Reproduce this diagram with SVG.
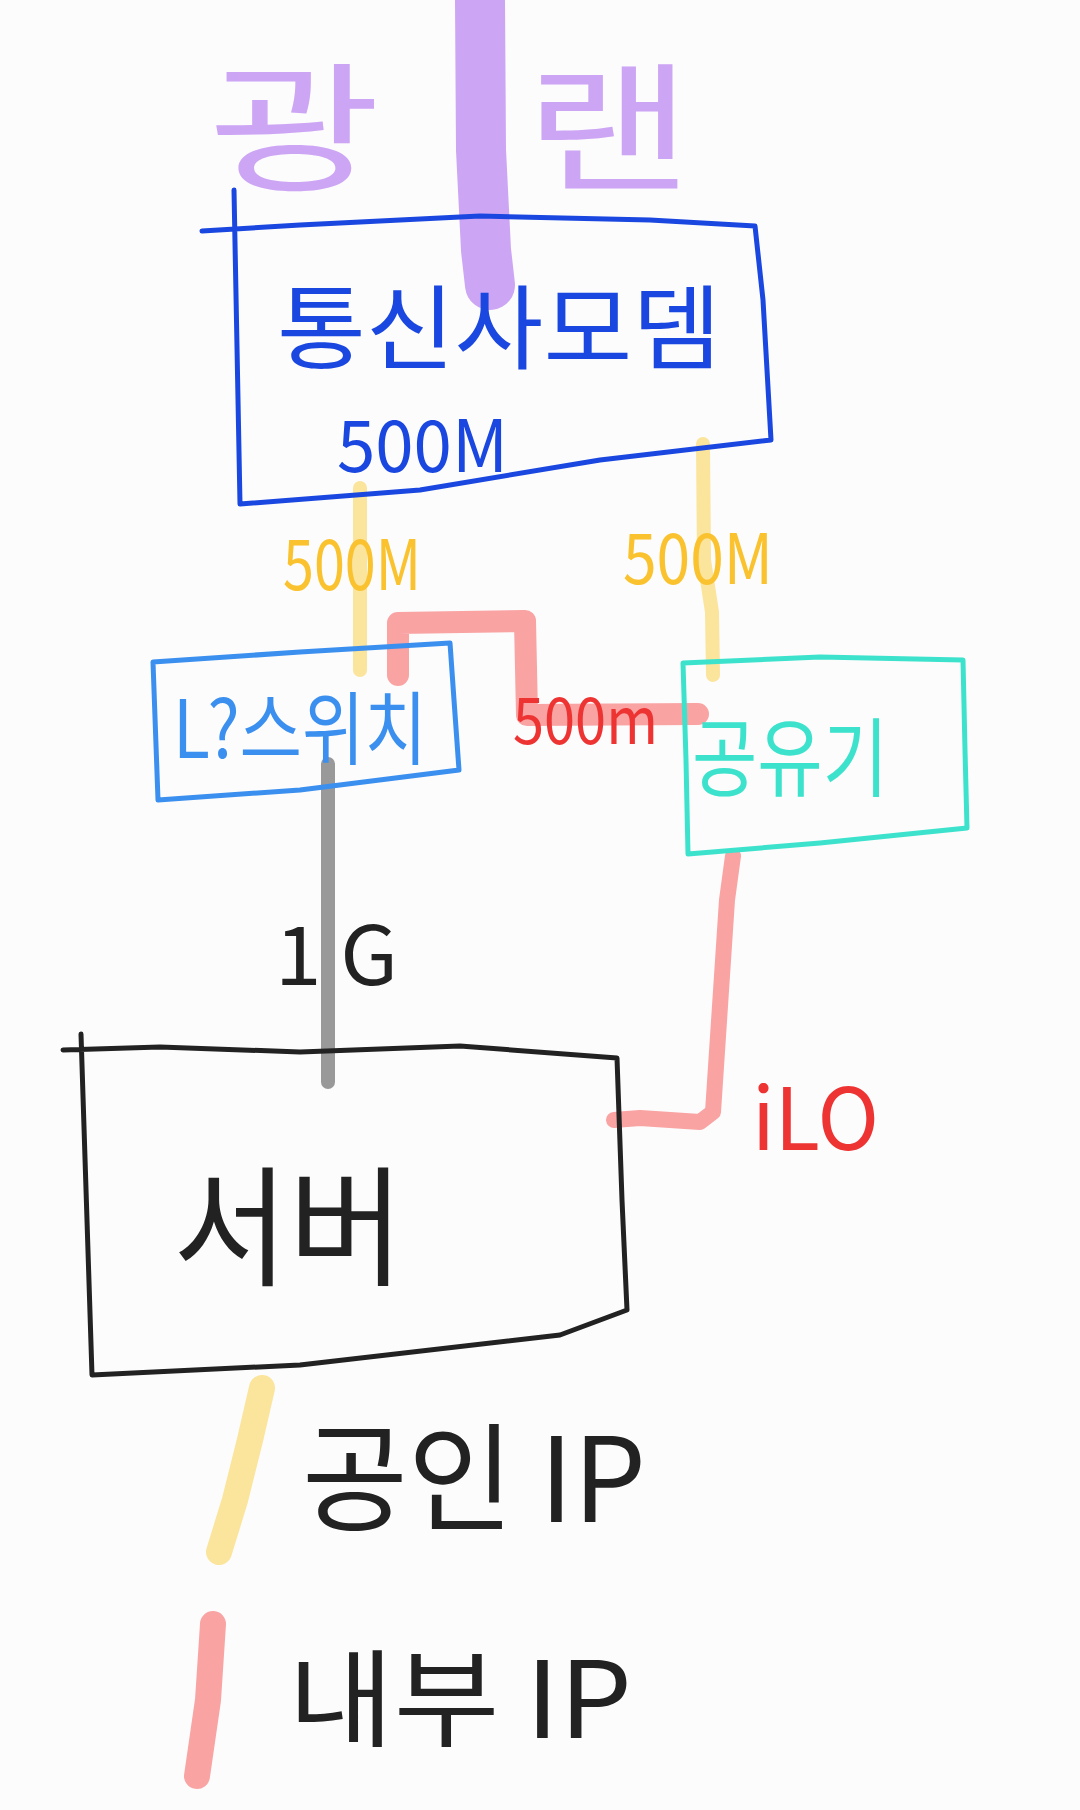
<svg xmlns="http://www.w3.org/2000/svg" width="1080" height="1810" viewBox="0 0 1080 1810">
  <style>
    .t { font-family: "Noto Sans CJK KR", "Noto Sans", "Liberation Sans", sans-serif; }
    .box { fill: none; stroke-linejoin: round; stroke-linecap: round; }
    .wire { fill: none; stroke-linecap: round; stroke-linejoin: round; }
  </style>
  <rect width="1080" height="1810" fill="#fcfcfc"/>

  <g id="label-gwanglan">
    <text class="t" x="208" y="180" font-size="140" fill="#cda5f5" textLength="173" lengthAdjust="spacingAndGlyphs">광</text>
    <text class="t" x="525" y="180" font-size="140" fill="#cda5f5" textLength="167" lengthAdjust="spacingAndGlyphs">랜</text>
  </g>

  <g id="connectors">
    <path class="wire" d="M480 0 L481 150 L486 250 L490 285" stroke="#cda5f5" stroke-width="50"/>
    <path class="wire" d="M360 488 L360 670" stroke="#fbe49b" stroke-width="14"/>
    <path class="wire" d="M703 444 L704 560 L712 612 L713 675" stroke="#fbe49b" stroke-width="14"/>
    <path class="wire" d="M398 675 L398 623 L525 621 L527 715 L698 714" stroke="#f9a3a3" stroke-width="22"/>
    <path class="wire" d="M328 764 L328 1082" stroke="#999999" stroke-width="14"/>
    <path class="wire" d="M733 856 L727 900 L713 1112 L700 1122 L640 1118 L614 1120" stroke="#f9a3a3" stroke-width="16"/>
    <text class="t" x="283" y="590" font-size="70" fill="#f9c22e" textLength="138" lengthAdjust="spacingAndGlyphs">500M</text>
    <text class="t" x="623" y="584" font-size="70" fill="#f9c22e" textLength="150" lengthAdjust="spacingAndGlyphs">500M</text>
    <text class="t" x="513" y="744" font-size="64" fill="#ee3333" textLength="145" lengthAdjust="spacingAndGlyphs">500m</text>
    <text class="t" x="275" y="985" font-size="82" fill="#222222" textLength="123" lengthAdjust="spacingAndGlyphs">1 G</text>
    <text class="t" x="752" y="1150" font-size="86" fill="#ee3333" textLength="127" lengthAdjust="spacingAndGlyphs">iLO</text>
  </g>

  <g id="node-modem">
    <path class="box" d="M234 190 L240 504 M202 231 L300 225 L480 216 L650 220 L755 226 L763 300 L771 440 L600 460 L420 490 L240 504" stroke="#1a47e0" stroke-width="5"/>
    <text class="t" x="277" y="362" font-size="92" fill="#1a47e0" textLength="444" lengthAdjust="spacingAndGlyphs">통신사모뎀</text>
    <text class="t" x="337" y="472" font-size="72" fill="#1a47e0" textLength="171" lengthAdjust="spacingAndGlyphs">500M</text>
  </g>

  <g id="node-l-switch">
    <path class="box" d="M153 662 L300 652 L450 643 L454 700 L459 770 L300 790 L158 800 Z" stroke="#3b8fef" stroke-width="5"/>
    <text class="t" x="173" y="758" font-size="80" fill="#3b8fef" textLength="254" lengthAdjust="spacingAndGlyphs">L?스위치</text>
  </g>

  <g id="node-router">
    <path class="box" d="M683 663 L820 657 L963 660 L965 750 L967 828 L820 843 L688 854 L686 760 Z" stroke="#3de2cc" stroke-width="5"/>
    <text class="t" x="692" y="790" font-size="86" fill="#3de2cc" textLength="196" lengthAdjust="spacingAndGlyphs">공유기</text>
  </g>

  <g id="node-server">
    <path class="box" d="M81 1034 L92 1375 M63 1050 L160 1047 L300 1052 L460 1046 L617 1058 L622 1200 L627 1310 L560 1335 L300 1365 L92 1375" stroke="#222222" stroke-width="5"/>
    <text class="t" x="173" y="1275" font-size="130" fill="#222222" textLength="231" lengthAdjust="spacingAndGlyphs">서버</text>
  </g>

  <g id="legend">
    <path class="wire" d="M262 1388 L250 1440 L235 1500 L219 1552" stroke="#fbe49b" stroke-width="26"/>
    <text class="t" x="302" y="1522" font-size="118" fill="#222222" textLength="344" lengthAdjust="spacingAndGlyphs">공인 IP</text>
    <path class="wire" d="M213 1624 L208 1700 L197 1776" stroke="#f9a3a3" stroke-width="26"/>
    <text class="t" x="288" y="1738" font-size="106" fill="#222222" textLength="344" lengthAdjust="spacingAndGlyphs">내부 IP</text>
  </g>
</svg>
